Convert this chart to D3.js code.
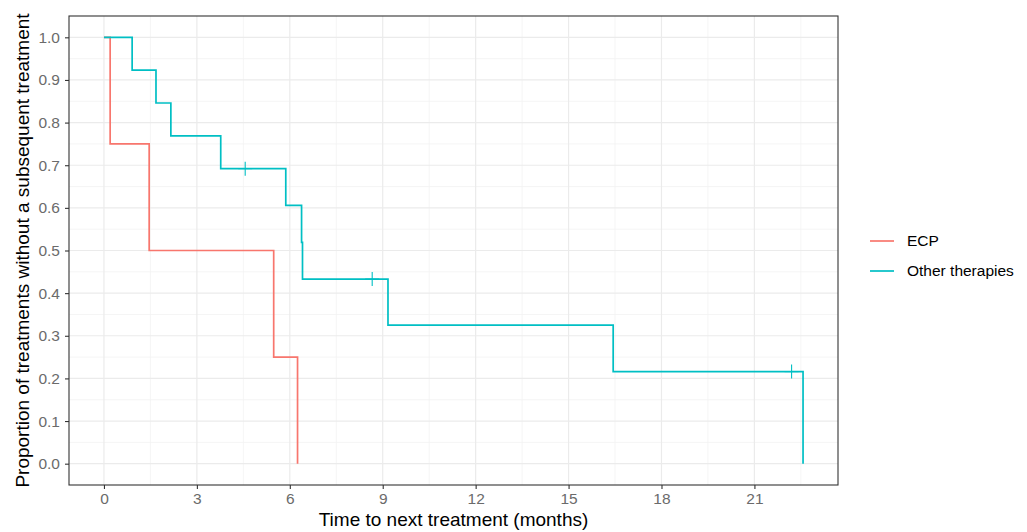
<!DOCTYPE html>
<html>
<head>
<meta charset="utf-8">
<script src="https://cdn.jsdelivr.net/npm/d3@7"></script>
<style>
  body { margin: 0; background: #fff; }
  text { font-family: Arial, "Liberation Sans", sans-serif; }
</style>
</head>
<body>
<div id="chart"></div>
<script>
// Kaplan-Meier estimates
var groups = ["ECP", "Other therapies"];
var colors = ["#F8766D", "#00BFC4"];

var ecpTime = [0, 0.2, 1.46, 5.48, 6.25];
var ecpSurv = [1, 0.75, 0.5, 0.25, 0];

var otherTime = [0, 0.91, 1.68, 2.16, 3.77, 5.87, 6.38, 6.41, 9.17, 16.44, 22.57];
var otherSurv = [1, 0.923, 0.846, 0.769, 0.692, 0.606, 0.519, 0.433, 0.325, 0.216, 0];

var censorTime = [4.56, 8.66, 22.2];
var censorSurv = [0.692, 0.433, 0.216];

var xTicks = [0, 3, 6, 9, 12, 15, 18, 21];
var yTicks = [0, 0.1, 0.2, 0.3, 0.4, 0.5, 0.6, 0.7, 0.8, 0.9, 1.0];

var W = 1027, H = 532;
var panel = {left: 69, right: 838, top: 16, bottom: 485};

var xMax = d3.max(otherTime.concat(ecpTime));
var x = d3.scaleLinear()
  .domain([-0.05 * xMax, xMax * 1.05])
  .range([panel.left, panel.right]);
var y = d3.scaleLinear()
  .domain([-0.05, 1.05])
  .range([panel.bottom, panel.top]);

var svg = d3.select("#chart").append("svg")
  .attr("width", W)
  .attr("height", H);

var grid = svg.append("g").attr("class", "grid");

// minor grid
var xMinor = xTicks.map(function(d) { return d + 1.5; }).concat([-1.5]);
xMinor = xMinor.filter(function(d) { return x(d) > panel.left && x(d) < panel.right; });
var yMinor = yTicks.map(function(d) { return d + 0.05; }).concat([-0.05]);
yMinor = yMinor.filter(function(d) { return y(d) < panel.bottom && y(d) > panel.top; });

grid.selectAll(".xminor").data(xMinor).enter().append("line")
  .attr("x1", function(d) { return x(d); }).attr("x2", function(d) { return x(d); })
  .attr("y1", panel.top).attr("y2", panel.bottom)
  .attr("stroke", "#F2F2F2").attr("stroke-width", 0.8);
grid.selectAll(".yminor").data(yMinor).enter().append("line")
  .attr("y1", function(d) { return y(d); }).attr("y2", function(d) { return y(d); })
  .attr("x1", panel.left).attr("x2", panel.right)
  .attr("stroke", "#F2F2F2").attr("stroke-width", 0.8);

// major grid
grid.selectAll(".xmajor").data(xTicks).enter().append("line")
  .attr("x1", function(d) { return x(d); }).attr("x2", function(d) { return x(d); })
  .attr("y1", panel.top).attr("y2", panel.bottom)
  .attr("stroke", "#EBEBEB").attr("stroke-width", 1.2);
grid.selectAll(".ymajor").data(yTicks).enter().append("line")
  .attr("y1", function(d) { return y(d); }).attr("y2", function(d) { return y(d); })
  .attr("x1", panel.left).attr("x2", panel.right)
  .attr("stroke", "#EBEBEB").attr("stroke-width", 1.2);

// survival curves
var line = d3.line()
  .x(function(d) { return x(d[0]); })
  .y(function(d) { return y(d[1]); })
  .curve(d3.curveStepAfter);

var curves = [
  d3.zip(ecpTime, ecpSurv),
  d3.zip(otherTime, otherSurv)
];

svg.append("g").selectAll("path").data(curves).enter().append("path")
  .attr("d", line)
  .attr("fill", "none")
  .attr("stroke", function(d, i) { return colors[i]; })
  .attr("stroke-width", 1.7);

// censor marks
var cens = svg.append("g").selectAll("g").data(d3.zip(censorTime, censorSurv)).enter()
  .append("g")
  .attr("transform", function(d) { return "translate(" + x(d[0]) + "," + y(d[1]) + ")"; });
cens.append("line").attr("x1", 0).attr("x2", 0).attr("y1", -7).attr("y2", 7)
  .attr("stroke", colors[1]).attr("stroke-width", 1.1);
cens.append("line").attr("x1", -7).attr("x2", 7).attr("y1", 0).attr("y2", 0)
  .attr("stroke", colors[1]).attr("stroke-width", 1.1);

// panel border
svg.append("rect")
  .attr("x", panel.left).attr("y", panel.top)
  .attr("width", panel.right - panel.left).attr("height", panel.bottom - panel.top)
  .attr("fill", "none").attr("stroke", "#333333").attr("stroke-width", 1.1);

// axes
var xAxis = d3.axisBottom(x).tickValues(xTicks).tickSize(4).tickPadding(4)
  .tickFormat(d3.format("d"));
var gx = svg.append("g")
  .attr("transform", "translate(0," + panel.bottom + ")")
  .call(xAxis);
var yAxis = d3.axisLeft(y).tickValues(yTicks).tickSize(4).tickPadding(5)
  .tickFormat(d3.format(".1f"));
var gy = svg.append("g")
  .attr("transform", "translate(" + panel.left + ",0)")
  .call(yAxis);

[gx, gy].forEach(function(g) {
  g.select(".domain").remove();
  g.selectAll(".tick line").attr("stroke", "#333333").attr("stroke-width", 1.1);
  g.selectAll(".tick text")
    .attr("fill", "#6b6b6b")
    .style("font-size", "15.5px")
    .style("font-family", "Arial, 'Liberation Sans', sans-serif");
});

// axis titles
svg.append("text")
  .attr("x", (panel.left + panel.right) / 2)
  .attr("y", 526)
  .attr("text-anchor", "middle")
  .style("font-size", "19px")
  .attr("fill", "#000")
  .text("Time to next treatment (months)");

svg.append("text")
  .attr("transform", "translate(29," + ((panel.top + panel.bottom) / 2) + ") rotate(-90)")
  .attr("text-anchor", "middle")
  .style("font-size", "19px")
  .attr("fill", "#000")
  .text("Proportion of treatments without a subsequent treatment");

// legend
var legend = svg.append("g").attr("class", "legend");
var items = legend.selectAll("g").data(groups).enter().append("g")
  .attr("transform", function(d, i) { return "translate(870," + (241 + i * 30) + ")"; });
items.append("line")
  .attr("x1", 0).attr("x2", 24).attr("y1", 0).attr("y2", 0)
  .attr("stroke", function(d, i) { return colors[i]; })
  .attr("stroke-width", 1.7);
items.append("text")
  .attr("x", 37).attr("y", 0).attr("dy", "0.35em")
  .style("font-size", "15.5px")
  .attr("fill", "#000")
  .text(function(d) { return d; });
</script>
</body>
</html>
